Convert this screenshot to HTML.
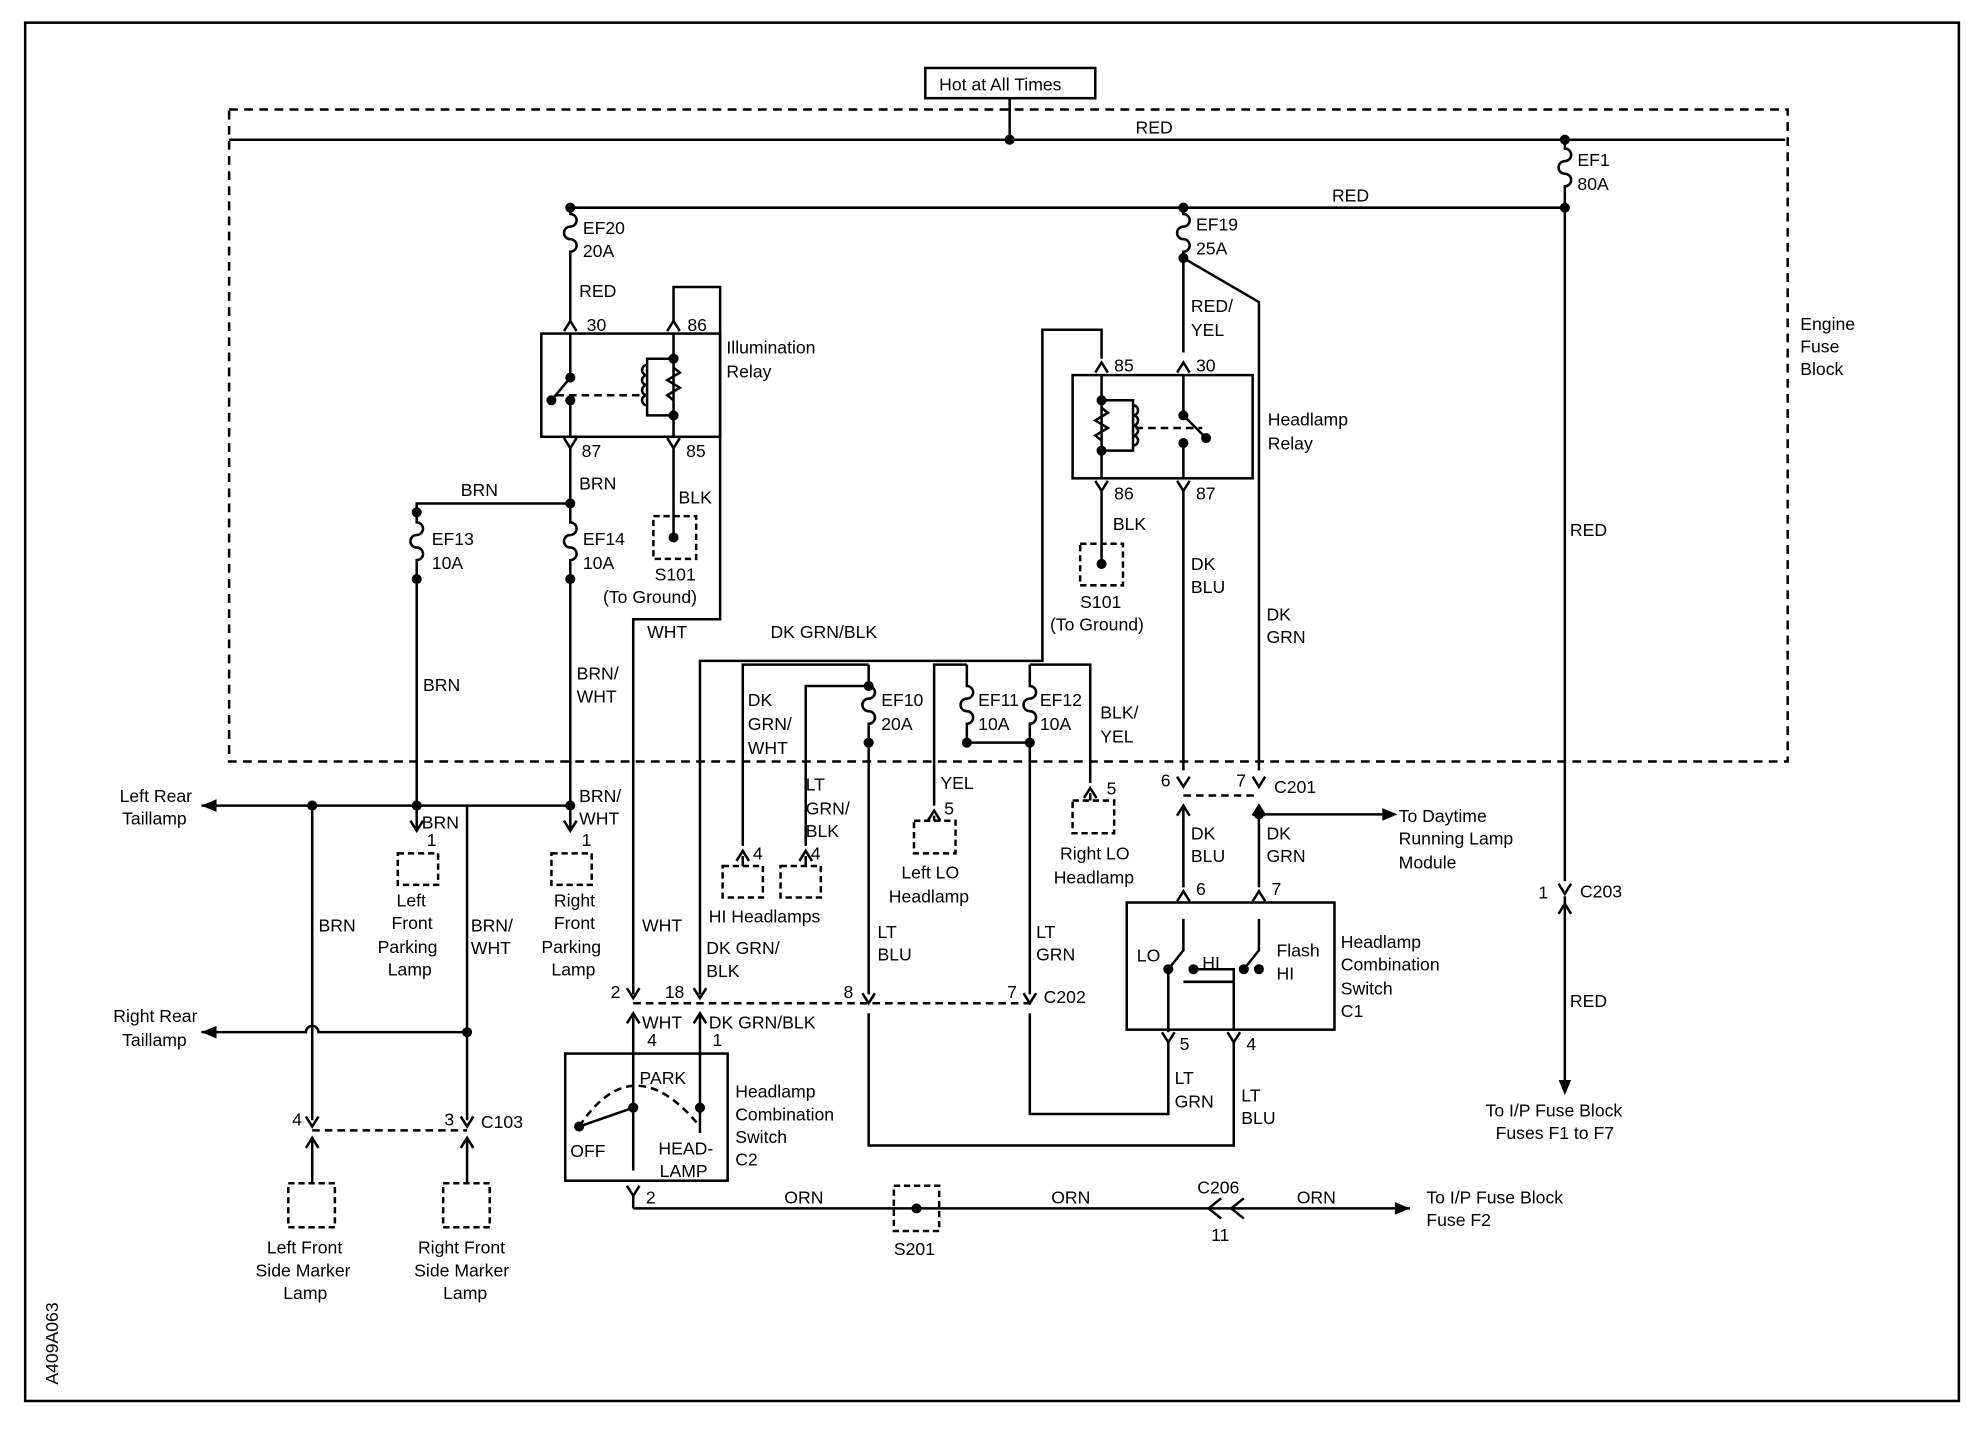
<!DOCTYPE html>
<html><head><meta charset="utf-8"><style>
html,body{margin:0;padding:0;background:#fff}
svg{display:block}
text{font-family:"Liberation Sans",sans-serif;font-size:14px;fill:#000}
</style></head><body>
<svg width="1974" height="1440" viewBox="0 0 1568 1144" preserveAspectRatio="none" xmlns="http://www.w3.org/2000/svg">
<defs>
<g id="up"><path d="M-5 8 L0 0 L5 8" fill="none" stroke="#000" stroke-width="2"/></g>
<g id="dn"><path d="M-5 -8 L0 0 L5 -8" fill="none" stroke="#000" stroke-width="2"/></g>
</defs>
<g fill="none" stroke="#000" stroke-width="2">
<rect x="20" y="18" width="1536" height="1095"/>
<rect x="735" y="54" width="135" height="24"/>
<path d="M182 87 H1420 V605 H182 Z" stroke-dasharray="7,5"/>
<path d="M182 111 H1418"/>
<path d="M802 78 V111"/>
<path d="M1243 111 V118 a5 5 0 0 1 0 10 a5 5 0 0 0 0 10 a5 5 0 0 1 0 10 V700"/>
<path d="M1243 712 V860"/>
<path d="M453 165 H1243"/>
<path d="M453 165 V170 a5 5 0 0 1 0 10 a5 5 0 0 0 0 10 a5 5 0 0 1 0 10 V255"/>
<path d="M535 255 V228 H572 V492 H503 V790"/>
<rect x="430" y="265" width="142" height="82"/>
<path d="M453 265 V300 L438 318 M453 318 V347 M535 265 V347 M535 285 H514 V330 H535" />
<path d="M514 290 a4 4 0 0 0 0 8 a4 4 0 0 0 0 8 a4 4 0 0 0 0 8 a4 4 0 0 0 0 8"/>
<path d="M535 292 l5 4 l-10 6 l10 6 l-10 6 l5 4" />
<path d="M442 314 H512" stroke-dasharray="6,4"/>
<path d="M453 356 V415 a5 5 0 0 1 0 10 a5 5 0 0 0 0 10 a5 5 0 0 1 0 10 V640"/>
<path d="M453 400 H331 V415 a5 5 0 0 1 0 10 a5 5 0 0 0 0 10 a5 5 0 0 1 0 10 V640"/>
<path d="M535 356 V427"/>
<rect x="519" y="410" width="34" height="34" stroke-dasharray="5,3"/>
<path d="M160 640 H453"/>
<path d="M160 820 H243 a5 5 0 0 1 10 0 H371"/>
<path d="M248 640 V890 M371 640 V890 M331 640 V660 M453 640 V660"/>
<path d="M248 898 H371" stroke-dasharray="6,4"/>
<path d="M248 904 V940 M371 904 V940"/>
<rect x="229" y="940" width="37" height="35" stroke-dasharray="5,3"/>
<rect x="352" y="940" width="37" height="35" stroke-dasharray="5,3"/>
<rect x="316" y="678" width="32" height="25" stroke-dasharray="5,3"/>
<rect x="438" y="678" width="32" height="25" stroke-dasharray="5,3"/>
<path d="M556 790 V525 H828 V262 H875 V285"/>
<rect x="449" y="837" width="129" height="101"/>
<path d="M503 805 V930 M556 805 V900 M503 960 V950 M503 960 H1120"/>
<path d="M460 895 Q503 830 556 895" stroke-dasharray="6,4"/>
<path d="M460 895 L503 880"/>
<rect x="710" y="942" width="36" height="36" stroke-dasharray="5,3"/>
<rect x="852" y="298" width="143" height="82"/>
<path d="M875 298 V380 M875 318 H900 V358 H875 M940 298 V330 L958 348 M940 352 V380" />
<path d="M900 322 a4 4 0 0 1 0 8 a4 4 0 0 1 0 8 a4 4 0 0 1 0 8 a4 4 0 0 1 0 8"/>
<path d="M875 324 l5 4 l-10 6 l10 6 l-10 6 l5 4" />
<path d="M902 340 H955" stroke-dasharray="6,4"/>
<path d="M875 390 V448 M940 205 V280 M940 390 V612 M940 205 L1000 240 V612"/>
<rect x="858" y="432" width="34" height="33" stroke-dasharray="5,3"/>
<path d="M940 165 V170 a5 5 0 0 1 0 10 a5 5 0 0 0 0 10 a5 5 0 0 1 0 10 V205"/>
<path d="M940 632 H1000" stroke-dasharray="6,4"/>
<path d="M940 640 V705 M1000 640 V705 M1000 647 H1100"/>
<rect x="895" y="717" width="165" height="101"/>
<path d="M940 730 V755 L928 770 V820 M1000 730 V755 L988 770 M948 770 H980 V818 M940 780 H980"/>
<path d="M928 828 V885 H818 V805"/>
<path d="M980 828 V910 H690 V805"/>
<path d="M690 528 H590 V672 M690 545 H640 V672"/>
<path d="M690 528 V545 a5 5 0 0 1 0 10 a5 5 0 0 0 0 10 a5 5 0 0 1 0 10 V790"/>
<path d="M768 528 H742 V640"/>
<path d="M768 528 V545 a5 5 0 0 1 0 10 a5 5 0 0 0 0 10 a5 5 0 0 1 0 10 V590 H818"/>
<path d="M818 528 H866 V622"/>
<path d="M818 528 V545 a5 5 0 0 1 0 10 a5 5 0 0 0 0 10 a5 5 0 0 1 0 10 V790"/>
<rect x="726" y="652" width="33" height="26" stroke-dasharray="5,3"/>
<rect x="852" y="636" width="33" height="26" stroke-dasharray="5,3"/>
<rect x="574" y="688" width="32" height="25" stroke-dasharray="5,3"/>
<rect x="620" y="688" width="32" height="25" stroke-dasharray="5,3"/>
<path d="M503 797 H818" stroke-dasharray="6,4"/>
<path d="M590 680 V688 M640 680 V688 M742 648 V652 M866 630 V636"/>
</g>
<g fill="#000">
<circle cx="802" cy="111" r="4"/><circle cx="1243" cy="111" r="4"/><circle cx="1243" cy="165" r="4"/>
<circle cx="453" cy="165" r="4"/><circle cx="940" cy="165" r="4"/><circle cx="940" cy="205" r="4"/>
<circle cx="453" cy="400" r="4"/><circle cx="453" cy="460" r="4"/><circle cx="331" cy="407" r="4"/><circle cx="331" cy="460" r="4"/>
<circle cx="453" cy="640" r="4"/><circle cx="331" cy="640" r="4"/><circle cx="248" cy="640" r="4"/><circle cx="371" cy="820" r="4"/>
<circle cx="535" cy="427" r="4"/><circle cx="875" cy="448" r="4"/><circle cx="728" cy="960" r="4"/>
<circle cx="453" cy="300" r="4"/><circle cx="453" cy="318" r="4"/><circle cx="438" cy="318" r="4"/><circle cx="535" cy="285" r="4"/><circle cx="535" cy="330" r="4"/>
<circle cx="875" cy="318" r="4"/><circle cx="875" cy="358" r="4"/><circle cx="940" cy="330" r="4"/><circle cx="940" cy="352" r="4"/><circle cx="958" cy="348" r="4"/>
<circle cx="690" cy="545" r="4"/><circle cx="690" cy="590" r="4"/><circle cx="768" cy="590" r="4"/><circle cx="818" cy="590" r="4"/><circle cx="1000" cy="647" r="4"/>
<circle cx="928" cy="770" r="4"/><circle cx="948" cy="770" r="4"/><circle cx="988" cy="770" r="4"/><circle cx="1000" cy="770" r="4"/>
<circle cx="503" cy="880" r="4"/><circle cx="556" cy="880" r="4"/><circle cx="460" cy="895" r="4"/>
<path d="M160 640 l12 -5 v10 z M160 820 l12 -5 v10 z M1110 647 l-12 -5 v10 z M1120 960 l-12 -5 v10 z M1243 870 l-5 -12 h10 z"/>
</g>
<g>
<use href="#up" x="453" y="255"/><use href="#up" x="535" y="255"/><use href="#dn" x="453" y="356"/><use href="#dn" x="535" y="356"/>
<use href="#up" x="875" y="288"/><use href="#up" x="940" y="288"/><use href="#dn" x="875" y="390"/><use href="#dn" x="940" y="390"/>
<use href="#dn" x="331" y="660"/><use href="#dn" x="453" y="660"/><use href="#dn" x="248" y="895"/><use href="#dn" x="371" y="895"/>
<use href="#up" x="248" y="904"/><use href="#up" x="371" y="904"/>
<use href="#dn" x="503" y="793"/><use href="#dn" x="556" y="793"/><use href="#up" x="503" y="805"/><use href="#up" x="556" y="805"/>
<use href="#dn" x="690" y="797"/><use href="#dn" x="818" y="797"/>
<use href="#dn" x="940" y="625"/><use href="#dn" x="1000" y="625"/><use href="#up" x="940" y="640"/><use href="#up" x="1000" y="640"/>
<use href="#up" x="940" y="708"/><use href="#up" x="1000" y="708"/><use href="#dn" x="928" y="828"/><use href="#dn" x="980" y="828"/>
<use href="#dn" x="1243" y="710"/><use href="#up" x="1243" y="718"/>
<use href="#up" x="590" y="676"/><use href="#up" x="640" y="676"/><use href="#up" x="742" y="644"/><use href="#up" x="866" y="626"/>
<use href="#dn" x="503" y="950"/>
</g>
<path d="M970 952 L960 960 L970 968 M988 952 L978 960 L988 968" fill="none" stroke="#000" stroke-width="2"/>
<g>
<text x="746" y="72">Hot at All Times</text>
<text x="902" y="106">RED</text>
<text x="1058" y="160">RED</text>
<text x="1253" y="132">EF1</text><text x="1253" y="151">80A</text>
<text x="463" y="186">EF20</text><text x="463" y="204">20A</text>
<text x="460" y="236">RED</text><text x="466" y="263">30</text><text x="546" y="263">86</text>
<text x="577" y="281">Illumination</text><text x="577" y="300">Relay</text>
<text x="462" y="363">87</text><text x="545" y="363">85</text>
<text x="460" y="389">BRN</text><text x="366" y="394">BRN</text>
<text x="539" y="400">BLK</text>
<text x="343" y="433">EF13</text><text x="343" y="452">10A</text>
<text x="463" y="433">EF14</text><text x="463" y="452">10A</text>
<text x="520" y="461">S101</text><text x="479" y="479">(To Ground)</text>
<text x="514" y="507">WHT</text><text x="612" y="507">DK GRN/BLK</text>
<text x="336" y="549">BRN</text><text x="458" y="540">BRN/</text><text x="458" y="558">WHT</text>
<text x="950" y="183">EF19</text><text x="950" y="202">25A</text>
<text x="946" y="248">RED/</text><text x="946" y="267">YEL</text>
<text x="885" y="295">85</text><text x="950" y="295">30</text>
<text x="1007" y="338">Headlamp</text><text x="1007" y="357">Relay</text>
<text x="885" y="397">86</text><text x="950" y="397">87</text>
<text x="884" y="421">BLK</text>
<text x="858" y="483">S101</text><text x="834" y="501">(To Ground)</text>
<text x="946" y="453">DK</text><text x="946" y="471">BLU</text>
<text x="1006" y="493">DK</text><text x="1006" y="511">GRN</text>
<text x="1247" y="426">RED</text>
<text x="1430" y="262">Engine</text><text x="1430" y="280">Fuse</text><text x="1430" y="298">Block</text>
<text x="594" y="561">DK</text><text x="594" y="580">GRN/</text><text x="594" y="599">WHT</text>
<text x="700" y="561">EF10</text><text x="700" y="580">20A</text>
<text x="777" y="561">EF11</text><text x="777" y="580">10A</text>
<text x="826" y="561">EF12</text><text x="826" y="580">10A</text>
<text x="874" y="571">BLK/</text><text x="874" y="590">YEL</text>
<text x="640" y="628">LT</text><text x="640" y="647">GRN/</text><text x="640" y="665">BLK</text>
<text x="747" y="627">YEL</text><text x="750" y="647">5</text>
<text x="716" y="698">Left LO</text><text x="706" y="717">Headlamp</text>
<text x="879" y="631">5</text>
<text x="842" y="683">Right LO</text><text x="837" y="702">Headlamp</text>
<text x="598" y="683">4</text><text x="644" y="683">4</text>
<text x="563" y="733">HI Headlamps</text>
<text x="95" y="637">Left Rear</text><text x="97" y="655">Taillamp</text>
<text x="90" y="812">Right Rear</text><text x="97" y="831">Taillamp</text>
<text x="335" y="658">BRN</text><text x="339" y="672">1</text>
<text x="460" y="637">BRN/</text><text x="460" y="655">WHT</text><text x="462" y="672">1</text>
<text x="315" y="720">Left</text><text x="311" y="738">Front</text><text x="300" y="757">Parking</text><text x="308" y="775">Lamp</text>
<text x="440" y="720">Right</text><text x="440" y="738">Front</text><text x="430" y="757">Parking</text><text x="438" y="775">Lamp</text>
<text x="253" y="740">BRN</text><text x="374" y="740">BRN/</text><text x="374" y="758">WHT</text>
<text x="510" y="740">WHT</text>
<text x="561" y="758">DK GRN/</text><text x="561" y="776">BLK</text>
<text x="697" y="745">LT</text><text x="697" y="763">BLU</text>
<text x="823" y="745">LT</text><text x="823" y="763">GRN</text>
<text x="485" y="793">2</text><text x="528" y="793">18</text>
<text x="670" y="793">8</text><text x="800" y="793">7</text><text x="829" y="797">C202</text>
<text x="510" y="817">WHT</text><text x="563" y="817">DK GRN/BLK</text>
<text x="514" y="831">4</text><text x="566" y="831">1</text>
<text x="508" y="861">PARK</text>
<text x="584" y="872">Headlamp</text><text x="584" y="890">Combination</text><text x="584" y="908">Switch</text><text x="584" y="926">C2</text>
<text x="453" y="919">OFF</text><text x="523" y="917">HEAD-</text><text x="524" y="935">LAMP</text>
<text x="513" y="956">2</text>
<text x="232" y="894">4</text><text x="353" y="894">3</text><text x="382" y="896">C103</text>
<text x="212" y="996">Left Front</text><text x="203" y="1014">Side Marker</text><text x="225" y="1032">Lamp</text>
<text x="332" y="996">Right Front</text><text x="329" y="1014">Side Marker</text><text x="352" y="1032">Lamp</text>
<text x="623" y="956">ORN</text><text x="835" y="956">ORN</text><text x="1030" y="956">ORN</text>
<text x="710" y="997">S201</text>
<text x="951" y="948">C206</text><text x="962" y="986">11</text>
<text x="1133" y="956">To I/P Fuse Block</text><text x="1133" y="974">Fuse F2</text>
<text x="922" y="625">6</text><text x="982" y="625">7</text><text x="1012" y="630">C201</text>
<text x="946" y="667">DK</text><text x="946" y="685">BLU</text>
<text x="1006" y="667">DK</text><text x="1006" y="685">GRN</text>
<text x="1111" y="653">To Daytime</text><text x="1111" y="671">Running Lamp</text><text x="1111" y="690">Module</text>
<text x="950" y="711">6</text><text x="1010" y="711">7</text>
<text x="903" y="764">LO</text><text x="955" y="770">HI</text><text x="1014" y="760">Flash</text><text x="1014" y="778">HI</text>
<text x="1065" y="753">Headlamp</text><text x="1065" y="771">Combination</text><text x="1065" y="790">Switch</text><text x="1065" y="808">C1</text>
<text x="937" y="834">5</text><text x="990" y="834">4</text>
<text x="933" y="861">LT</text><text x="933" y="880">GRN</text>
<text x="986" y="875">LT</text><text x="986" y="893">BLU</text>
<text x="1222" y="714">1</text><text x="1255" y="713">C203</text>
<text x="1247" y="800">RED</text>
<text x="1180" y="887">To I/P Fuse Block</text><text x="1188" y="905">Fuses F1 to F7</text>
<text x="0" y="0" font-size="11" transform="translate(46,1100) rotate(-90)">A409A063</text>
</g>
</svg>
</body></html>
